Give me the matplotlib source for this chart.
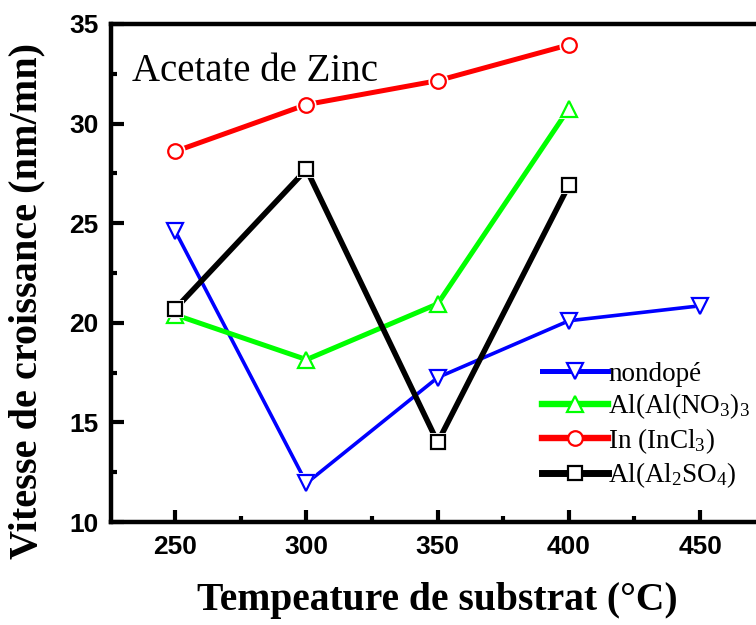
import matplotlib
matplotlib.use("Agg")
import matplotlib.pyplot as plt
from matplotlib.ticker import MultipleLocator

plt.rcParams['mathtext.fontset'] = 'custom'
plt.rcParams['mathtext.rm'] = 'Liberation Serif'
plt.rcParams['mathtext.it'] = 'Liberation Serif:italic'
plt.rcParams['mathtext.bf'] = 'Liberation Serif:bold'

# Data
temps_nondope = [250, 300, 350, 400, 450]
nondope = [24.6, 11.95, 17.25, 20.1, 20.85]
temps_4 = [250, 300, 350, 400]
al_no3 = [20.4, 18.15, 20.95, 30.75]
in_cl3 = [28.6, 30.95, 32.15, 33.95]
al_so4 = [20.7, 27.7, 14.0, 26.9]

labels = ['nondopé', r'Al(Al(NO$_3$)$_3$', r'In (InCl$_3$)', r'Al(Al$_2$SO$_4$)']
title_text = 'Acetate de Zinc'
xlabel = 'Tempeature de substrat (°C)'
ylabel = 'Vitesse de croissance (nm/mn)'
xticks = [250, 300, 350, 400, 450]
yticks = [10, 15, 20, 25, 30, 35]

fig = plt.figure(figsize=(7.56, 6.25), dpi=100)
ax = fig.add_axes([0.1468, 0.1648, 0.866, 0.797])

series = [
    (temps_nondope, nondope, '#0000FF', 'v', 2.6, 11),
    (temps_4, al_no3, '#00FF00', '^', 3.6, 11),
    (temps_4, in_cl3, '#FF0000', 'o', 3.6, 10.5),
    (temps_4, al_so4, '#000000', 's', 4.0, 9.5),
]

handles = []
for i, (xs, ys, c, m, lw, ms) in enumerate(series):
    z = 2 + i * 3
    ax.plot(xs, ys, color=c, lw=lw, solid_capstyle='round', zorder=z)
    # white halo to produce gap between line and marker
    ax.plot(xs, ys, ls='none', marker=m, ms=ms + 4, mfc='white', mec='white',
            mew=0, zorder=z + 1)
    ax.plot(xs, ys, ls='none', marker=m, ms=ms, mfc='white', mec=c,
            mew=1.6, zorder=z + 2)
    handles.append(matplotlib.lines.Line2D([], [], color=c, lw=lw + 1, marker=m,
                                           ms=ms, mfc='white', mec=c, mew=1.6))

ax.set_xlim(225.5, 475)
ax.set_ylim(10, 35)
ax.set_xticks(xticks)
ax.set_yticks(yticks)
ax.xaxis.set_minor_locator(MultipleLocator(25))
ax.yaxis.set_minor_locator(MultipleLocator(2.5))

for s in ax.spines.values():
    s.set_linewidth(3.2)

ax.tick_params(which='major', direction='in', length=9, width=3,
               labelsize=19, pad=9)
ax.tick_params(which='minor', direction='in', length=4, width=3)
ax.tick_params(top=False, right=False)
for lab in ax.get_xticklabels() + ax.get_yticklabels():
    lab.set_fontfamily('Liberation Sans')
    lab.set_fontweight('bold')

ax.set_xlabel(xlabel, fontfamily='Liberation Serif', fontweight='bold',
              fontsize=28.5)
ax.set_ylabel(ylabel, fontfamily='Liberation Serif', fontweight='bold',
              fontsize=29)
ax.xaxis.set_label_coords(0.499, -0.157)
ax.yaxis.set_label_coords(-0.128, 0.444)
ax.xaxis.label.set_va('center')
ax.yaxis.label.set_va('center')

ax.text(0.032, 0.905, title_text, transform=ax.transAxes,
        fontfamily='Liberation Serif', fontsize=28, va='center', ha='left')

leg = ax.legend(handles, labels, loc='upper left',
                bbox_to_anchor=(0.642, 0.343), frameon=False,
                prop={'family': 'Liberation Serif', 'size': 19.5},
                handlelength=2.45, handletextpad=0.0, labelspacing=0.17,
                borderaxespad=0)

fig.savefig('out.png', dpi=100)
